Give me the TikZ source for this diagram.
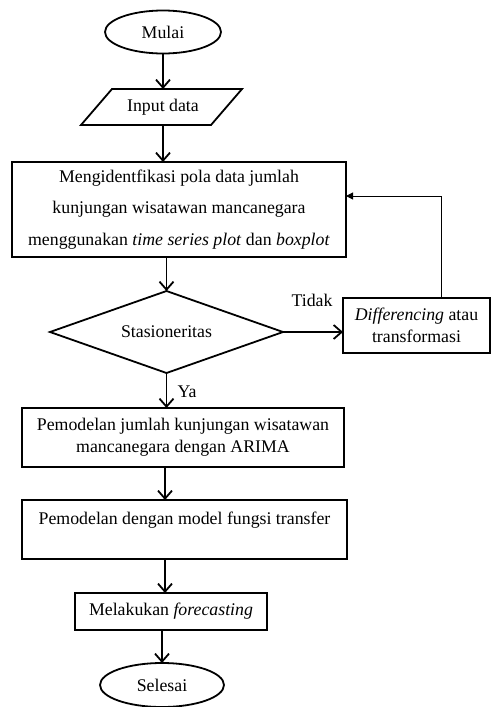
\documentclass[tikz,border=0pt]{standalone}
\usepackage{fontspec}
\setmainfont{Liberation Serif}
\usetikzlibrary{shapes.geometric,arrows.meta,calc}
\begin{document}
\begin{tikzpicture}[x=1pt,y=-1pt,
  every node/.style={font=\fontsize{17.8}{22}\selectfont},
  arr/.style={line width=1.8pt,-{Straight Barb[length=8pt,width=14pt]}},
  fbarr/.style={line width=1pt,-{Triangle[length=7pt,width=7pt]}},
  procbox/.style={draw,line width=1.8pt,rectangle,inner sep=0pt,outer sep=0pt,align=center},
  term/.style={draw,line width=1.8pt,ellipse,inner sep=0pt,outer sep=0pt},
  decision/.style={draw,line width=1.8pt,diamond,inner sep=0pt,outer sep=0pt,aspect=2.84},
  lbl/.style={inner sep=0pt}
]
\useasboundingbox (0,0) rectangle (491,707);

% terminals
\node[term,minimum width=116pt,minimum height=43pt] (mulai) at (163,32) {Mulai};
\node[term,minimum width=124pt,minimum height=44pt] (selesai) at (162,685) {Selesai};

% input parallelogram
\draw[line width=1.8pt,line join=miter] (112,89) -- (242,89) -- (211,125) -- (81,125) -- cycle;
\node[inner sep=0pt,outer sep=0pt,minimum width=100pt,minimum height=36pt] (inp) at (163,107) {Input data};

% process boxes
\node[procbox,minimum width=334pt,minimum height=95pt,font=\fontsize{17.8}{31.5}\selectfont] (big) at (179,209.5)
  {Mengidentfikasi pola data jumlah\\kunjungan wisatawan mancanegara\\menggunakan \textit{time series plot} dan \textit{boxplot}};
\node[decision,minimum width=233pt,minimum height=82pt] (dia) at (166.5,332) {Stasioneritas};
\node[procbox,minimum width=147pt,minimum height=55pt] (diff) at (416.5,325.5)
  {\textit{Differencing} atau\\transformasi};
\node[procbox,minimum width=322pt,minimum height=59pt] (box2) at (183,437.5)
  {Pemodelan jumlah kunjungan wisatawan\\mancanegara dengan ARIMA};
\node[procbox,minimum width=325pt,minimum height=59pt] (box3) at (184.5,529.5)
  {Pemodelan dengan model fungsi transfer\\\mbox{}};
\node[procbox,minimum width=192pt,minimum height=37pt] (box4) at (171,611.5)
  {Melakukan \textit{forecasting}};

% labels
\node[lbl] (tidak) at (312,300) {Tidak};
\node[lbl] (ya) at (187,392) {Ya};

% connectors
\draw[arr] (mulai.south) -- (mulai.south |- inp.north);
\draw[arr] (mulai.south |- inp.south) -- (mulai.south |- big.north);
\draw[arr] (big.south -| dia.north) -- (dia.north);
\draw[arr] (dia.east) -- (dia.east -| diff.west);
\draw[arr] (dia.south) -- (dia.south |- box2.north);
\draw[arr] (box2.south -| 165,0) -- (box3.north -| 165,0);
\draw[arr] (box3.south -| 165,0) -- (box4.north -| 165,0);
\draw[arr] (box4.south -| selesai.north) -- (selesai.north);
\coordinate (fb) at (441,196);
\draw[fbarr] (diff.north -| fb) -- (fb) -- (fb -| big.east);
\end{tikzpicture}
\end{document}
